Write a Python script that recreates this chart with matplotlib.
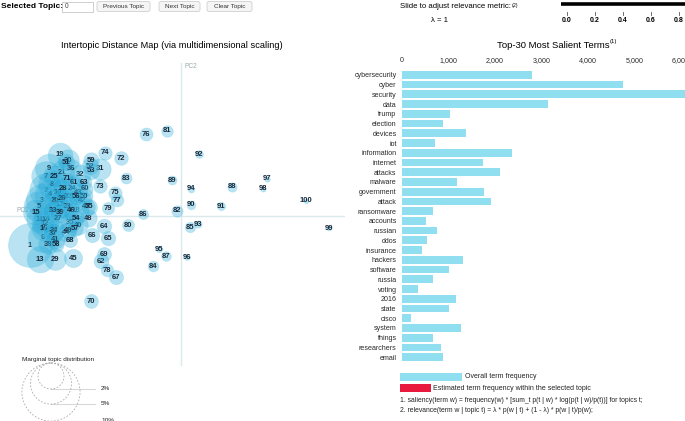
import matplotlib
matplotlib.use("Agg")
import matplotlib.pyplot as plt
from matplotlib.patches import Circle, Rectangle, FancyBboxPatch

plt.rcParams['font.family'] = ['Liberation Sans', 'DejaVu Sans']

W, H = 685, 421

# ---- topic data (MDS coordinates, marginal topic share in %) ----
topic_ids = list(range(1, 101))
pc1 = [-0.378, -0.338, -0.348, -0.328, -0.355, -0.345, -0.338, -0.323, -0.330, -0.308,
       -0.353, -0.340, -0.353, -0.338, -0.363, -0.343, -0.303, -0.263, -0.303, -0.315,
       -0.298, -0.283, -0.285, -0.273, -0.318, -0.298, -0.308, -0.295, -0.315, -0.283,
       -0.203, -0.253, -0.320, -0.318, -0.278, -0.275, -0.320, -0.333, -0.303, -0.258,
       -0.315, -0.248, -0.258, -0.288, -0.270, -0.275, -0.238, -0.233, -0.283, -0.243,
       -0.288, -0.228, -0.225, -0.263, -0.230, -0.263, -0.265, -0.313, -0.225, -0.240,
       -0.268, -0.200, -0.243, -0.193, -0.183, -0.223, -0.163, -0.278, -0.193, -0.225,
       -0.285, -0.150, -0.203, -0.190, -0.165, -0.088, -0.160, -0.185, -0.183, -0.133,
       -0.035, -0.010, -0.138, -0.070, 0.023, -0.095, -0.038, 0.128, -0.023, 0.025,
       0.100, 0.045, 0.043, 0.025, -0.055, 0.015, 0.215, 0.205, 0.370, 0.313]
pc2 = [-0.073, 0.065, 0.040, 0.053, 0.025, -0.053, 0.100, 0.078, 0.120, 0.060,
       -0.008, -0.018, -0.108, -0.008, 0.010, -0.030, 0.028, 0.013, 0.153, 0.040,
       0.110, 0.050, 0.023, 0.070, 0.100, 0.043, -0.005, 0.070, -0.108, 0.140,
       0.118, 0.103, 0.013, -0.035, -0.015, 0.118, -0.043, -0.070, 0.008, -0.023,
       -0.058, 0.038, 0.058, -0.040, -0.105, 0.013, 0.023, -0.005, -0.035, 0.050,
       0.135, 0.125, 0.113, -0.005, 0.023, 0.048, -0.030, -0.070, 0.140, 0.068,
       0.085, -0.113, 0.085, -0.025, -0.055, -0.048, -0.153, -0.060, -0.095, -0.213,
       0.093, 0.145, 0.075, 0.158, 0.058, 0.205, 0.040, -0.135, 0.020, -0.023,
       0.213, 0.013, 0.095, -0.125, -0.028, 0.005, -0.100, 0.073, 0.090, 0.028,
       0.025, 0.155, -0.020, 0.068, -0.083, -0.103, 0.093, 0.068, -0.030, 0.038]
topic_pct = [5.7, 3.3, 3.1, 2.9, 2.8, 2.7, 2.6, 2.5, 2.4, 2.3,
             2.2, 2.15, 2.1, 2.05, 2.0, 1.95, 1.9, 1.85, 1.8, 1.75,
             1.7, 1.65, 1.6, 1.55, 1.5, 1.48, 1.45, 1.42, 1.4, 1.38,
             1.35, 1.32, 1.3, 1.28, 1.25, 1.22, 1.2, 1.18, 1.15, 1.12,
             1.1, 1.07, 1.04, 1.01, 0.98, 0.95, 0.92, 0.9, 0.88, 0.86,
             0.84, 0.82, 0.8, 0.78, 0.76, 0.75, 0.74, 0.72, 0.7, 0.68,
             0.66, 0.65, 0.64, 0.63, 0.62, 0.61, 0.6, 0.59, 0.58, 0.57,
             0.56, 0.55, 0.54, 0.53, 0.52, 0.5, 0.48, 0.46, 0.44, 0.42,
             0.4, 0.38, 0.36, 0.34, 0.32, 0.3, 0.28, 0.26, 0.24, 0.22,
             0.2, 0.18, 0.16, 0.14, 0.12, 0.1, 0.09, 0.08, 0.07, 0.06]
legend_pct = [2, 5, 10]

# ---- salient terms ----
terms = ['cybersecurity', 'cyber', 'security', 'data', 'trump', 'election', 'devices',
         'iot', 'information', 'internet', 'attacks', 'malware', 'government', 'attack',
         'ransomware', 'accounts', 'russian', 'ddos', 'insurance', 'hackers', 'software',
         'russia', 'voting', '2016', 'state', 'cisco', 'system', 'things', 'researchers',
         'email']
term_freq = [2810, 4760, 6150, 3150, 1050, 880, 1390, 710, 2380, 1740, 2120, 1200, 1760,
             1930, 670, 520, 770, 540, 430, 1330, 1030, 670, 360, 1180, 1030, 210, 1270,
             670, 840, 900]
freq_ticks = [0, 1000, 2000, 3000, 4000, 5000, 6000]
lambda_ticks = [0.0, 0.2, 0.4, 0.6, 0.8]

R2 = 13.0  # radius in px of a 2% topic
FILL = '#27a9d9'
EDGE = '#6fd0ea'
BAR = '#8fdff0'


def radius_px(p):
    return R2 * (p / 2.0) ** 0.5


fig = plt.figure(figsize=(W / 100, H / 100), dpi=100)

# ---- intertopic distance map ----
ax = fig.add_axes([0, 1 - 366 / H, 345 / W, 303 / H])
ax.set_xlim(-0.4525, 0.41)
ax.set_ylim(-0.375, 0.3825)
ax.axis('off')
ax.axhline(0, color='#dbe8ec', lw=1.0, zorder=1)
ax.axvline(0, color='#dbe8ec', lw=1.0, zorder=1)
ax.text(16 / 345, (366 - 211) / 303, 'PC1', transform=ax.transAxes, fontsize=4.8,
        color='#9aa', va='center', zorder=1)
ax.text(184 / 345, (366 - 67) / 303, 'PC2', transform=ax.transAxes, fontsize=4.8,
        color='#9aa', va='center', zorder=1)

for i, t in enumerate(topic_ids):
    r_pt = radius_px(topic_pct[i]) * 0.72
    ax.scatter(pc1[i], pc2[i], s=(2 * r_pt) ** 2, color=FILL, alpha=0.32,
               edgecolors=EDGE, linewidths=0.6, zorder=2 + 2 * i)
    ax.text(pc1[i], pc2[i], str(t), fontsize=5.5, fontweight='bold', color='#17293a',
            ha='center', va='center', zorder=3 + 2 * i)

# ---- top terms bar chart ----
ax2 = fig.add_axes([401.5 / W, 1 - 362 / H, 279.6 / W, 292 / H])
ax2.barh(range(len(terms)), term_freq, height=0.8, color=BAR, clip_on=False)
ax2.set_xlim(0, 6000)
ax2.set_ylim(len(terms) - 0.5, -0.5)
ax2.set_yticks(range(len(terms)))
ax2.set_yticklabels(terms)
ax2.xaxis.tick_top()
ax2.set_xticks(freq_ticks)
ax2.set_xticklabels([f'{v:,}' for v in freq_ticks])
ax2.tick_params(axis='both', length=0, labelsize=5.1, labelcolor='#2a2a2a')
ax2.tick_params(axis='x', pad=4)
ax2.tick_params(axis='y', pad=3.5)
for s in ax2.spines.values():
    s.set_visible(False)

# ---- overlay in pixel coordinates for the page furniture ----
ov = fig.add_axes([0, 0, 1, 1])
ov.set_xlim(0, W)
ov.set_ylim(H, 0)
ov.axis('off')

ov.text(1, 6.5, 'Selected Topic:', fontsize=6.0, fontweight='bold', va='center')
ov.add_patch(Rectangle((62, 1.5), 31, 10, fc='white', ec='#c8c8c8', lw=0.6))
ov.text(65, 6.5, '0', fontsize=4.8, va='center', color='#444')
for label, x0, x1 in [('Previous Topic', 97, 150), ('Next Topic', 159, 200),
                      ('Clear Topic', 207, 252)]:
    ov.add_patch(FancyBboxPatch((x0, 1.5), x1 - x0, 10,
                                boxstyle='round,pad=0,rounding_size=2',
                                fc='#f5f5f5', ec='#d0d0d0', lw=0.6))
    ov.text((x0 + x1) / 2, 6.8, label, fontsize=4.6, ha='center', va='center',
            color='#333')

ov.text(172, 46, 'Intertopic Distance Map (via multidimensional scaling)',
        fontsize=6.7, ha='center', va='center')
ov.text(553, 46, 'Top-30 Most Salient Terms', fontsize=6.8, ha='center', va='center')
ov.text(610, 42, '(1)', fontsize=4.3, ha='left', va='center')

ov.text(400, 6.5, 'Slide to adjust relevance metric:', fontsize=5.6, va='center')
ov.text(512, 5, '(2)', fontsize=3.8, va='center')
ov.text(440, 20, 'λ = 1', fontsize=5.6, ha='center', va='center')
ov.plot([561, 686], [4, 4], color='black', lw=2.6, solid_capstyle='butt', clip_on=False)
for k, v in enumerate(lambda_ticks):
    xx = 567 + 28 * k
    ov.plot([xx, xx], [12, 15], color='#555', lw=0.6)
    ov.text(xx, 21, f'{v:.1f}', fontsize=5, fontweight='bold', ha='center', va='center')

# marginal topic distribution legend
ov.text(22, 359, 'Marginal topic distribution', fontsize=4.6, va='center', color='#222')
cx, top = 51, 363
for p in legend_pct:
    r = radius_px(p)
    ov.add_patch(Circle((cx, top + r), r, fill=False, ec='#aaaaaa', lw=0.6,
                        ls=(0, (2, 2))))
    ov.plot([cx, 95], [top + 2 * r, top + 2 * r], color='gray', alpha=0.3, lw=0.8)
    ov.text(101, top + 2 * r - 1, f'{p}%', fontsize=4.6, va='center', color='#222')

# bar legend and footnotes
ov.add_patch(Rectangle((400, 372.5), 62, 8.5, fc=BAR, ec='none'))
ov.text(465, 377, 'Overall term frequency', fontsize=5, va='center', color='#222')
ov.add_patch(Rectangle((400, 384), 31, 8, fc='#e8193c', ec='none'))
ov.text(433, 388, 'Estimated term frequency within the selected topic', fontsize=5,
        va='center', color='#222')
ov.text(400, 401, '1. saliency(term w) = frequency(w) * [sum_t p(t | w) * log(p(t | w)/p(t))] '
        'for topics t;', fontsize=4.9, va='center', color='#222')
ov.text(400, 411, '2. relevance(term w | topic t) = λ * p(w | t) + (1 - λ) * p(w | t)/p(w);',
        fontsize=4.9, va='center', color='#222')

fig.savefig('out.png', dpi=100)
